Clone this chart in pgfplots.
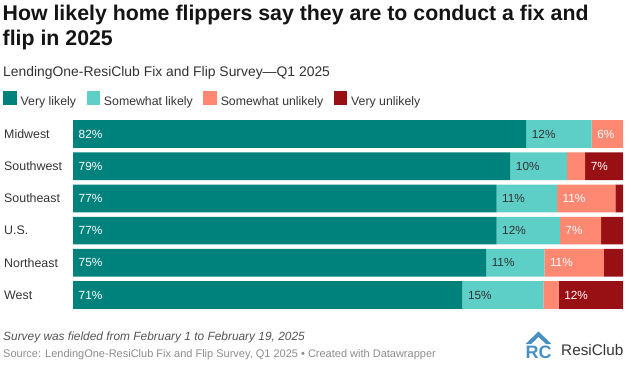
\documentclass[border=0pt]{standalone}
\usepackage{pgfplots}
\pgfplotsset{compat=1.18}
\usepackage{pgfplotstable}
\usepackage{fontspec}
\setmainfont{Liberation Sans}
\definecolor{cVL}{RGB}{0,130,124}
\definecolor{cSL}{RGB}{94,207,199}
\definecolor{cSU}{RGB}{255,136,115}
\definecolor{cVU}{RGB}{152,16,20}
\definecolor{ctext}{RGB}{51,51,51}
\definecolor{cnote}{RGB}{85,85,85}
\definecolor{csrc}{RGB}{140,140,140}
\definecolor{clogo}{RGB}{72,143,196}

\pgfplotstableread{
y vl sl su vu
0 82.4 11.9 5.7 0
1 79.5 10.3 3.3 6.9
2 77.0 11.0 10.6 1.4
3 77.0 11.5 7.5 4.0
4 75.1 10.6 10.8 3.5
5 70.8 14.7 2.8 11.7
}\data

\pgfplotstableread{
x y lab
0 0 82
0 1 79
0 2 77
0 3 77
0 4 75
0 5 71
94.3 0 6
93.1 1 7
88.0 2 11
88.5 3 7
85.7 4 11
88.3 5 12
}\labW

\pgfplotstableread{
x y lab
82.4 0 12
79.5 1 10
77.0 2 11
77.0 3 12
75.1 4 11
70.8 5 15
}\labD

\begin{document}
\begin{tikzpicture}[x=1pt,y=1pt]
\useasboundingbox (0,0) rectangle (631,-365);
\node[anchor=base west, inner sep=0, font=\fontsize{21.3}{25}\selectfont\bfseries, text=black!92] at (2.5,-20.7) {How likely home flippers say they are to conduct a fix and};
\node[anchor=base west, inner sep=0, font=\fontsize{21.3}{25}\selectfont\bfseries, text=black!92] at (2.5,-45.7) {flip in 2025};
\node[anchor=base west, inner sep=0, font=\fontsize{13.9}{16}\selectfont, text=ctext] at (3,-76) {LendingOne-ResiClub Fix and Flip Survey—Q1 2025};

\begin{axis}[at={(73pt,-117.9pt)}, anchor=north west, scale only axis,
  width=550pt, height=193.2pt, xmin=0, xmax=100, ymin=-0.5, ymax=5.5,
  y dir=reverse, xbar stacked, bar width=27.7pt,
  axis line style={draw=none}, major tick length=0pt, xtick=\empty,
  ytick={0,...,5}, yticklabels={Midwest,Southwest,Southeast,U.S.,Northeast,West},
  yticklabel style={anchor=west, xshift=-69pt, inner sep=0pt, font=\fontsize{12.4}{14}\selectfont, text=ctext},
  legend style={at={(axis description cs:-0.1267,1.0968)}, anchor=west, legend columns=-1,
    draw=none, fill=none, inner sep=0pt, outer sep=0pt, font=\fontsize{12.3}{14}\selectfont, text=ctext,
    nodes={inner sep=0pt},
    /tikz/every odd column/.append style={column sep=4pt},
    /tikz/every even column/.append style={column sep=10.5pt}},
  legend image code/.code={\fill[#1] (0pt,-3pt) rectangle (13.4pt,10.4pt);},
]
\addplot[fill=cVL, draw=none] table[x=vl, y=y]{\data};
\addplot[fill=cSL, draw=none] table[x=sl, y=y]{\data};
\addplot[fill=cSU, draw=none] table[x=su, y=y]{\data};
\addplot[fill=cVU, draw=none] table[x=vu, y=y]{\data};
\legend{Very likely, Somewhat likely, Somewhat unlikely, Very unlikely}
\end{axis}

\begin{axis}[at={(73pt,-117.9pt)}, anchor=north west, scale only axis,
  width=550pt, height=193.2pt, xmin=0, xmax=100, ymin=-0.5, ymax=5.5,
  y dir=reverse, hide axis, clip=false]
\addplot[draw=none, mark=none, nodes near coords={\pgfplotspointmeta\%}, point meta=explicit symbolic,
  nodes near coords style={anchor=west, xshift=5.5pt, inner sep=0pt, text=white, font=\fontsize{11.8}{14}\selectfont}]
  table[x=x, y=y, meta=lab]{\labW};
\addplot[draw=none, mark=none, nodes near coords={\pgfplotspointmeta\%}, point meta=explicit symbolic,
  nodes near coords style={anchor=west, xshift=5.5pt, inner sep=0pt, text=ctext, font=\fontsize{11.8}{14}\selectfont}]
  table[x=x, y=y, meta=lab]{\labD};
\end{axis}

\node[anchor=base west, inner sep=0, font=\fontsize{11.9}{14}\selectfont\itshape, text=cnote] at (3,-340.5) {Survey was fielded from February 1 to February 19, 2025};
\node[anchor=base west, inner sep=0, font=\fontsize{11}{13}\selectfont, text=csrc] at (3,-357.3) {Source: LendingOne-ResiClub Fix and Flip Survey, Q1 2025 • Created with Datawrapper};

\fill[clogo] (525.5,-344) -- (538.5,-331.5) -- (551.5,-344) -- (546,-344) -- (538.5,-337) -- (531,-344) -- cycle;
\node[anchor=base, inner sep=0, font=\fontsize{18}{18}\selectfont\bfseries, text=clogo] at (538.5,-358) {RC};
\node[anchor=base west, inner sep=0, font=\fontsize{15.3}{17}\selectfont, text=ctext] at (561,-355) {ResiClub};
\end{tikzpicture}
\end{document}
